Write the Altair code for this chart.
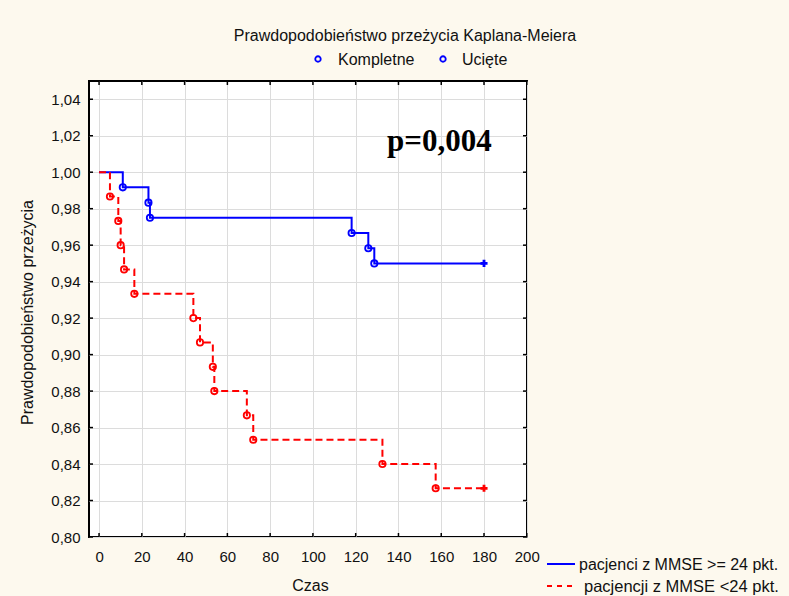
import altair as alt
import pandas as pd

# Kaplan-Meier estimates, read per group
series_names = ["pacjenci z MMSE >= 24 pkt.", "pacjencji z MMSE <24 pkt."]

hi_time = [0, 11.1, 23.1, 23.8, 118.1, 125.9, 128.7]
hi_surv = [1.0, 0.9917, 0.9833, 0.975, 0.9667, 0.9583, 0.95]

lo_time = [0, 5.1, 9.0, 10.1, 11.7, 16.5, 44.1, 47.2, 53.2, 53.9, 69.1, 72.1, 132.5, 157.4]
lo_surv = [1.0, 0.9867, 0.9733, 0.96, 0.9467, 0.9333, 0.92, 0.9067,
           0.8933, 0.88, 0.8667, 0.8533, 0.84, 0.8267]

censor_time = 180

x_ticks = [0, 20, 40, 60, 80, 100, 120, 140, 160, 180, 200]
y_ticks = [0.80, 0.82, 0.84, 0.86, 0.88, 0.90, 0.92, 0.94, 0.96, 0.98, 1.00, 1.02, 1.04]

colors = ["#0000ff", "#ff0000"]
dashes = [[1, 0], [7, 4]]


def km_rows(name, times, survs):
    rows = []
    for i, (t, s) in enumerate(zip(times, survs)):
        rows.append({"series": name, "time": t, "surv": s,
                     "kind": "start" if i == 0 else "event"})
    rows.append({"series": name, "time": censor_time, "surv": survs[-1], "kind": "censored"})
    return rows


km = pd.DataFrame(km_rows(series_names[0], hi_time, hi_surv) +
                  km_rows(series_names[1], lo_time, lo_surv))

W, H = 438, 456

x_scale = alt.Scale(domain=[-4.7, 200.1], nice=False, zero=False)
y_scale = alt.Scale(domain=[0.80, 1.05], nice=False, zero=False)
color_scale = alt.Scale(domain=series_names, range=colors)
dash_scale = alt.Scale(domain=series_names, range=dashes)

x_enc = alt.X("time:Q", scale=x_scale, axis=alt.Axis(
    values=x_ticks, tickCount=len(x_ticks) + 2, format="d", grid=True,
    ticks=False, domain=False, labelOverlap=False, labelFlush=False,
    labelPadding=12, title="Czas", titleX=W / 2 + 2, titleY=48,
    titleBaseline="middle", titleAlign="center"))
y_enc = alt.Y("surv:Q", scale=y_scale, axis=alt.Axis(
    values=y_ticks, tickCount=len(y_ticks) + 2, grid=True, ticks=False,
    domain=False, labelPadding=9, labelOverlap=False, labelFlush=False,
    labelExpr="replace(format(datum.value, '.2f'), '.', ',')",
    title="Prawdopodobieństwo przeżycia", titleX=-62, titleY=H / 2 + 3,
    titleAngle=-90, titleBaseline="middle", titleAlign="center"))

base = alt.Chart(km)

steps = base.mark_line(interpolate="step-after", strokeWidth=2).encode(
    x=x_enc, y=y_enc,
    color=alt.Color("series:N", scale=color_scale, legend=None),
    strokeDash=alt.StrokeDash("series:N", scale=dash_scale, legend=None),
    detail="series:N",
)

events = base.transform_filter(alt.datum.kind == "event").mark_point(
    shape="circle", filled=False, size=40, strokeWidth=1.8, opacity=1).encode(
    x="time:Q", y="surv:Q",
    color=alt.Color("series:N", scale=color_scale, legend=None),
)

censored = base.transform_filter(alt.datum.kind == "censored").mark_point(
    shape="cross", filled=True, size=50, strokeWidth=0, opacity=1).encode(
    x="time:Q", y="surv:Q",
    color=alt.Color("series:N", scale=color_scale, legend=None),
)

# inward tick marks on all four sides of the frame
xt = pd.DataFrame({"time": x_ticks})
yt = pd.DataFrame({"surv": y_ticks})
tick_style = dict(color="black", strokeWidth=1.5)
ticks_bottom = alt.Chart(xt).mark_rule(**tick_style).encode(
    x="time:Q", y=alt.value(H), y2=alt.value(H - 4))
ticks_top = alt.Chart(xt).mark_rule(**tick_style).encode(
    x="time:Q", y=alt.value(0), y2=alt.value(4))
ticks_left = alt.Chart(yt).mark_rule(**tick_style).encode(
    y="surv:Q", x=alt.value(0), x2=alt.value(4))
ticks_right = alt.Chart(yt).mark_rule(**tick_style).encode(
    y="surv:Q", x=alt.value(W), x2=alt.value(W - 4))


def label(text, x, y, size=16, font="Liberation Sans", weight="normal",
          align="left", color="#111111"):
    return alt.Chart(pd.DataFrame({"t": [text]})).mark_text(
        align=align, baseline="alphabetic", font=font, fontSize=size,
        fontWeight=weight, color=color).encode(
        text="t:N", x=alt.value(x), y=alt.value(y))


def symbol(x, y, shape="circle"):
    return alt.Chart(pd.DataFrame({"s": [0]})).mark_point(
        shape=shape, filled=False, size=30, strokeWidth=1.8, opacity=1,
        color="#0000ff").encode(x=alt.value(x), y=alt.value(y))


title = label("Prawdopodobieństwo przeżycia Kaplana-Meiera", 316, -40, align="center")
leg_top = [
    symbol(229, -22), label("Kompletne", 249, -16),
    symbol(354, -22), label("Ucięte", 373, -16),
]
pval = label("p=0,004", 298, 70, size=31, font="Liberation Serif", weight="bold",
             color="black")

# line legend below right of the plot
leg_df = pd.DataFrame({"series": series_names})
leg_hi = alt.Chart(leg_df).transform_filter(alt.datum.series == series_names[0]).mark_rule(
    strokeWidth=2).encode(
    x=alt.value(458), x2=alt.value(486), y=alt.value(483),
    color=alt.Color("series:N", scale=color_scale, legend=None))
leg_lo = alt.Chart(leg_df).transform_filter(alt.datum.series == series_names[1]).mark_rule(
    strokeWidth=2, strokeDash=[5, 5]).encode(
    x=alt.value(458), x2=alt.value(488), y=alt.value(505),
    color=alt.Color("series:N", scale=color_scale, legend=None))
leg_hi_txt = label(series_names[0], 490, 489)
leg_lo_txt = label(series_names[1], 495, 511, size=16.5)

chart = alt.layer(
    steps, events, censored,
    ticks_bottom, ticks_top, ticks_left, ticks_right,
    title, *leg_top, pval,
    leg_hi, leg_lo, leg_hi_txt, leg_lo_txt,
).properties(
    width=W, height=H,
    autosize=alt.AutoSizeParams(type="none"),
    padding={"left": 89, "top": 81, "right": 789 - 89 - W, "bottom": 596 - 81 - H},
    background="#fdf9ee",
).configure_view(
    stroke="black", strokeWidth=2, fill="white",
).configure_axis(
    gridColor="#dcdcdc", gridWidth=1,
    labelFont="Liberation Sans", labelFontSize=15, labelColor="#111111",
    titleFont="Liberation Sans", titleFontSize=16, titleFontWeight="normal",
    titleColor="#111111",
)

chart.save("out.html", embed_options={"renderer": "svg", "actions": False})
